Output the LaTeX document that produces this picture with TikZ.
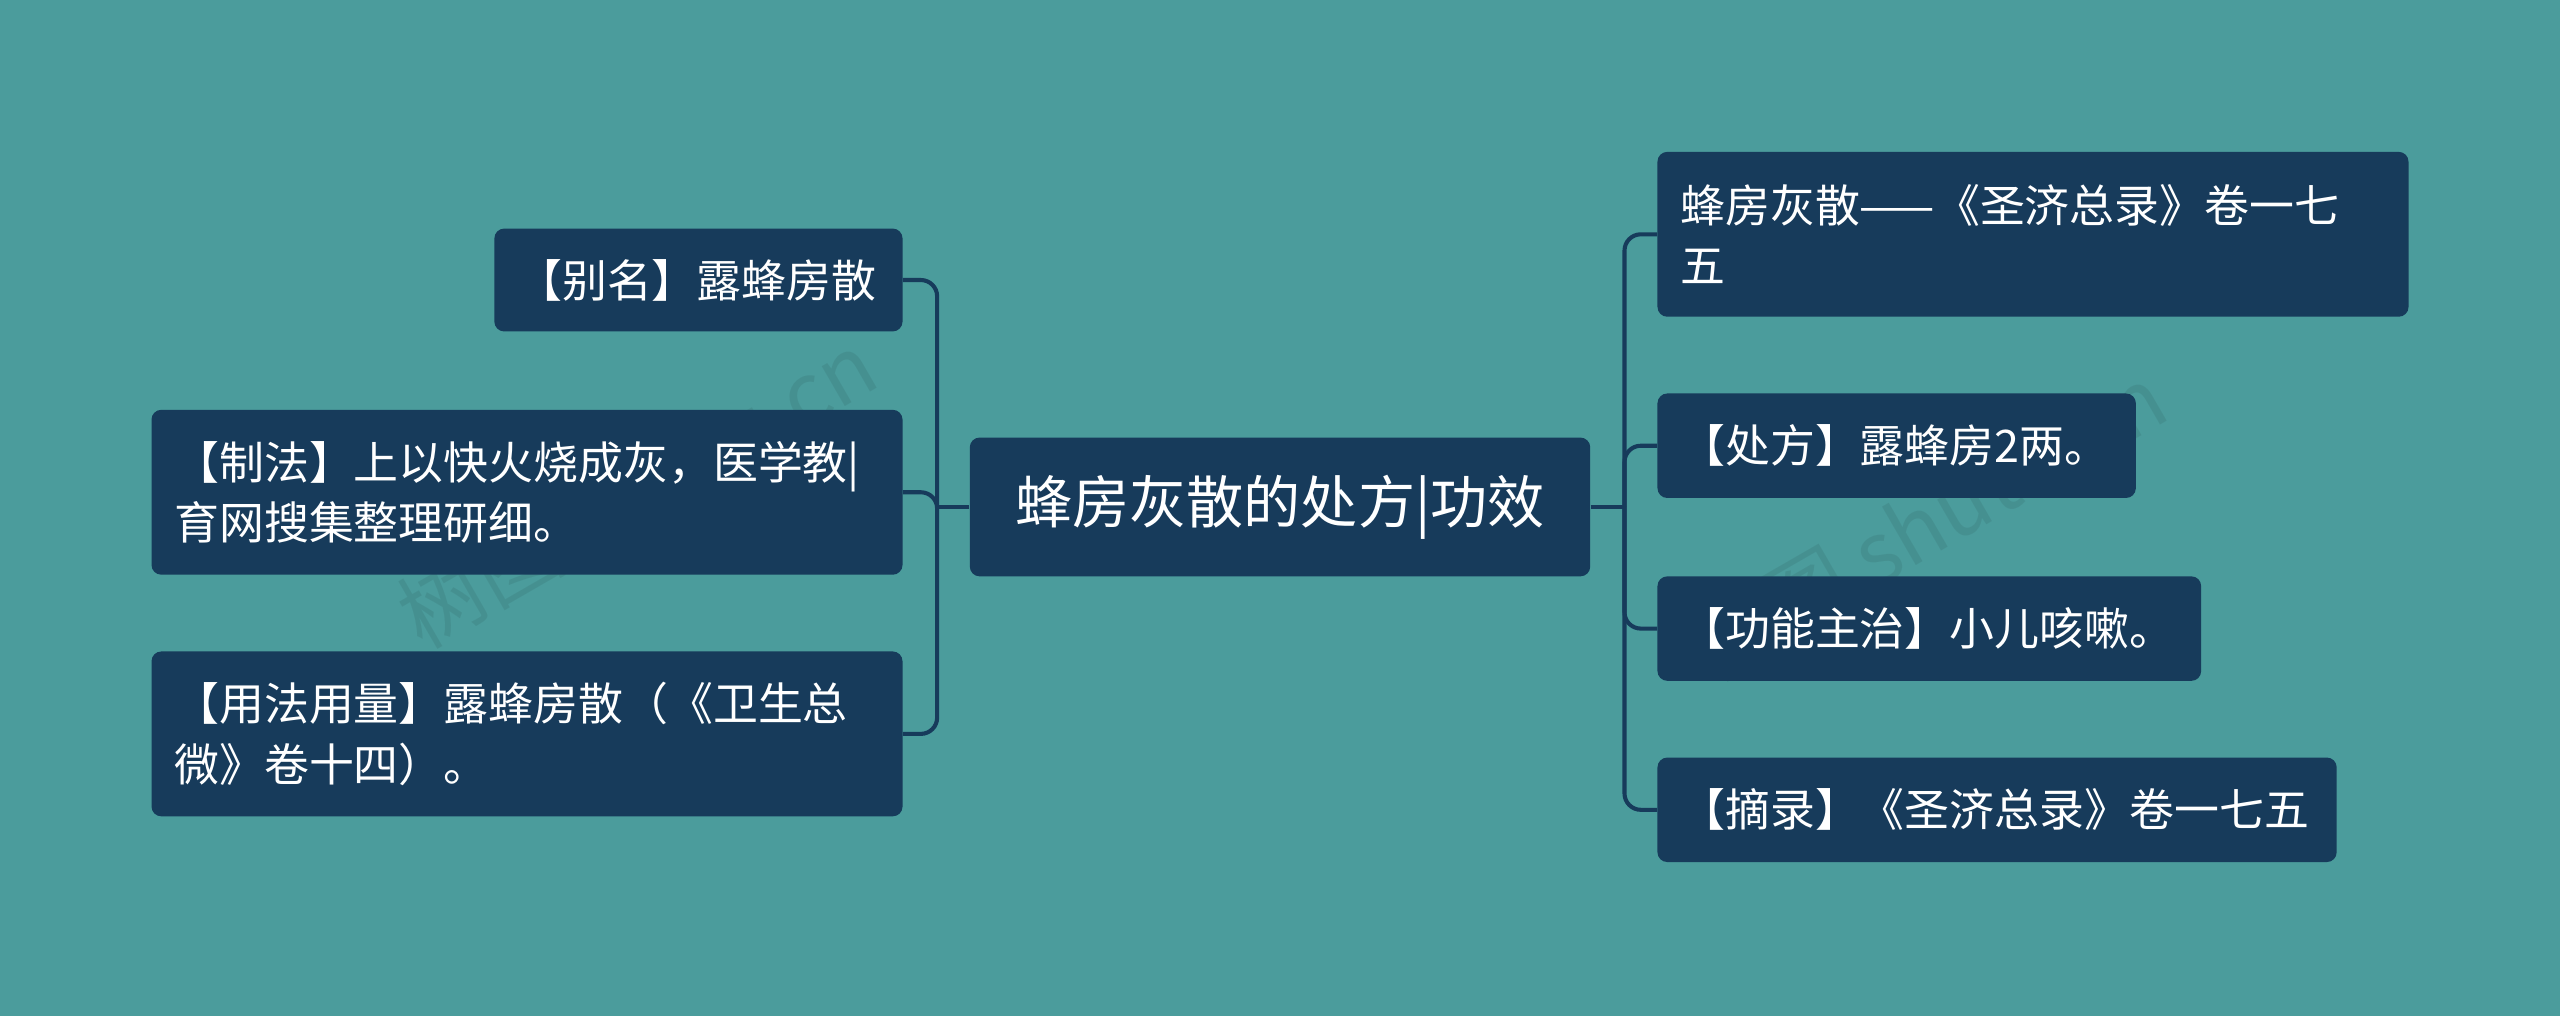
\documentclass[tikz,border=0pt]{standalone}
\usepackage{fontspec}
\setmainfont{Noto Sans CJK SC}
\begin{document}
\begin{tikzpicture}[x=1pt,y=-1pt,
  box/.style={fill=nodec,rounded corners=6pt,text=white,font=\fontsize{27.5}{37}\selectfont,align=left,inner xsep=14pt,inner ysep=0pt,anchor=north west},
  conn/.style={draw=linec,line width=2.5pt,rounded corners=10pt}]
\definecolor{bgc}{HTML}{4B9C9C}
\definecolor{nodec}{HTML}{173B5B}
\definecolor{linec}{HTML}{173B5B}
\fill[bgc] (0,0) rectangle (1568,622);
\useasboundingbox (0,0) rectangle (1568,622);
\node[text=black,opacity=0.07,rotate=30,font=\fontsize{52}{52}\selectfont] (w1) at (390,300) {树图 shutu.cn};
\node[text=black,opacity=0.07,rotate=30,font=\fontsize{52}{52}\selectfont] (w2) at (1180,320) {树图 shutu.cn};
\node[box,minimum width=380pt,minimum height=85pt,font=\fontsize{35}{40}\selectfont,anchor=center,align=center] (m) at (784,310.5) {蜂房灰散的处方|功效};
\node[box,text width=222pt,minimum height=63pt,anchor=east] (l1) at (553,171.5) {【别名】露蜂房散};
\node[box,text width=432pt,minimum height=101pt,anchor=east] (l2) at (553,301.5) {【制法】上以快火烧成灰，医学教|\\育网搜集整理研细。};
\node[box,text width=432pt,minimum height=101pt,anchor=east] (l3) at (553,449.5) {【用法用量】露蜂房散（《卫生总\\微》卷十四）。};
\node[box,text width=432pt,minimum height=101pt,anchor=west] (r1) at (1015,143.5) {蜂房灰散——《圣济总录》卷一七\\五};
\node[box,text width=265pt,minimum height=64pt,anchor=west] (r2) at (1015,273) {【处方】露蜂房2两。};
\node[box,text width=305pt,minimum height=64pt,anchor=west] (r3) at (1015,385) {【功能主治】小儿咳嗽。};
\node[box,text width=388pt,minimum height=64pt,anchor=west] (r4) at (1015,496) {【摘录】《圣济总录》卷一七五};
\coordinate (lj) at (574,310.5);
\coordinate (rj) at (995,310.5);
\draw[conn] (m.west) -- (lj);
\draw[conn] (m.east) -- (rj);
\foreach \n in {l1,l2,l3} \draw[conn] (lj) |- (\n.east);
\foreach \n in {r1,r2,r3,r4} \draw[conn] (rj) |- (\n.west);
\end{tikzpicture}
\end{document}
